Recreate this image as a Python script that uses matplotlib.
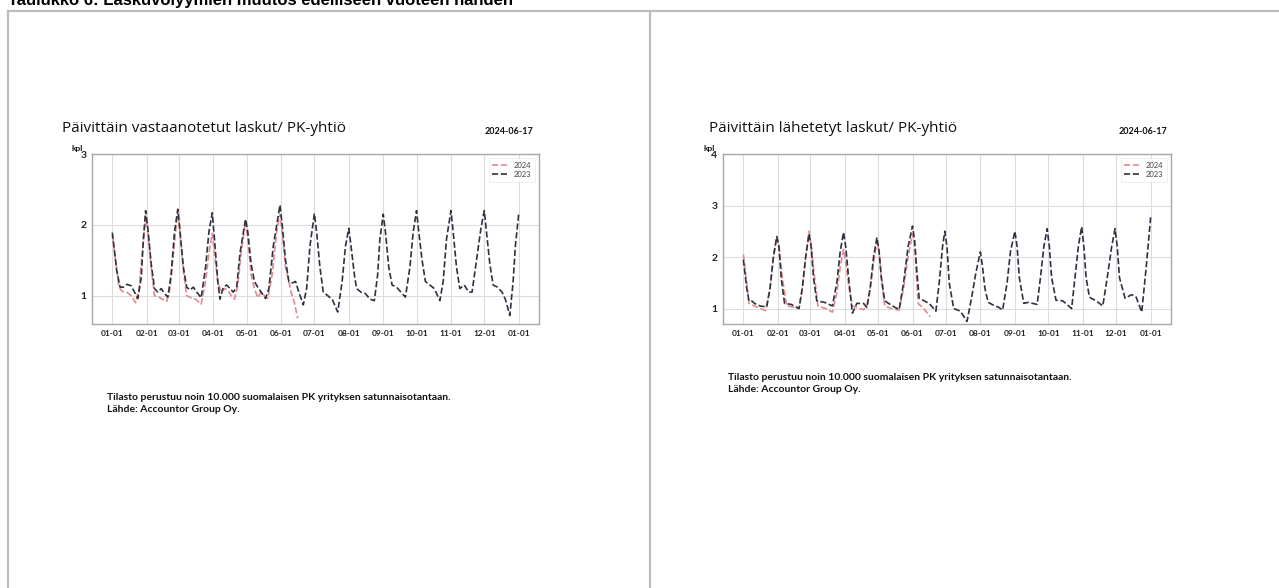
import numpy as np
import pandas as pd
import matplotlib
matplotlib.use('Agg')
import matplotlib.pyplot as plt
from matplotlib.lines import Line2D

# Päivät vuoden alusta ja arvot (kpl / yhtiö)
vast_2023_day = [0, 4, 7, 10, 13, 17, 20, 23, 26, 28, 30, 32, 35, 38, 41, 44, 47, 50, 53, 56,
                 59, 61, 64, 67, 70, 73, 76, 80, 84, 87, 90, 92, 95, 97, 100, 103, 106, 109, 112, 115,
                 120, 122, 125, 128, 131, 134, 138, 141, 145, 151, 153, 156, 159, 162, 165, 168, 172, 175, 178, 182,
                 184, 187, 190, 194, 198, 203, 207, 210, 213, 215, 218, 220, 224, 228, 232, 236, 239, 241, 244, 246,
                 249, 252, 256, 260, 264, 268, 271, 274, 276, 279, 282, 286, 290, 295, 298, 301, 305, 307, 310, 313,
                 317, 321, 324, 328, 332, 335, 337, 340, 343, 347, 351, 354, 358, 361, 363, 366]
vast_2023_val = [1.89, 1.35, 1.12, 1.12, 1.16, 1.14, 1.05, 0.96, 1.25, 1.80, 2.20, 1.95, 1.45, 1.10, 1.05, 1.10, 1.03, 0.98, 1.30, 1.90,
                 2.22, 1.90, 1.40, 1.12, 1.08, 1.12, 1.05, 0.97, 1.40, 1.90, 2.17, 1.80, 1.20, 0.95, 1.12, 1.15, 1.10, 1.05, 1.12, 1.60,
                 2.08, 1.90, 1.45, 1.20, 1.12, 1.05, 0.96, 1.10, 1.70, 2.28, 2.00, 1.50, 1.20, 1.18, 1.20, 1.05, 0.87, 1.10, 1.70, 2.16,
                 1.90, 1.40, 1.05, 1.00, 0.95, 0.77, 1.20, 1.70, 1.95, 1.70, 1.30, 1.10, 1.05, 1.03, 0.95, 0.93, 1.30, 1.80, 2.15, 1.90,
                 1.40, 1.15, 1.12, 1.05, 0.98, 1.40, 1.90, 2.20, 1.90, 1.50, 1.20, 1.15, 1.10, 0.93, 1.20, 1.80, 2.20, 1.90, 1.40, 1.10,
                 1.15, 1.05, 1.05, 1.50, 1.95, 2.20, 1.90, 1.45, 1.15, 1.12, 1.05, 0.95, 0.72, 1.20, 1.70, 2.15]

vast_2024_day = [0, 3, 6, 9, 13, 17, 21, 24, 27, 30, 32, 35, 38, 42, 45, 49, 52, 55, 59, 61,
                 64, 67, 71, 75, 80, 84, 87, 90, 92, 95, 98, 101, 104, 107, 110, 113, 116, 120, 122, 125,
                 128, 131, 134, 137, 140, 144, 148, 151, 153, 156, 159, 161, 164, 167]
vast_2024_val = [1.85, 1.50, 1.12, 1.06, 1.05, 1.00, 0.90, 1.10, 1.60, 2.12, 1.90, 1.40, 1.00, 0.98, 0.95, 0.92, 1.10, 1.60, 2.20, 1.90,
                 1.35, 1.00, 0.97, 0.95, 0.88, 1.20, 1.60, 1.88, 1.60, 1.20, 1.05, 1.10, 1.08, 1.00, 0.95, 1.15, 1.60, 2.05, 1.80, 1.30,
                 1.10, 0.97, 1.05, 1.00, 0.96, 1.30, 1.90, 2.15, 1.90, 1.40, 1.20, 1.05, 0.90, 0.68]

lah_2023_day = [0, 3, 5, 7, 10, 15, 21, 24, 27, 30, 32, 34, 37, 43, 50, 53, 56, 59, 61, 63,
                66, 73, 80, 84, 87, 90, 92, 95, 98, 102, 108, 111, 114, 117, 120, 122, 124, 127, 134, 140,
                144, 148, 152, 154, 156, 158, 167, 173, 176, 179, 181, 183, 185, 189, 195, 201, 205, 209, 213, 215,
                217, 220, 226, 229, 233, 237, 240, 244, 246, 248, 252, 256, 264, 267, 270, 273, 275, 277, 281, 287,
                295, 298, 301, 304, 306, 308, 311, 317, 323, 327, 331, 334, 336, 338, 343, 349, 353, 358, 362, 366]
lah_2023_val = [1.95, 1.40, 1.15, 1.16, 1.10, 1.05, 1.03, 1.40, 2.00, 2.40, 2.20, 1.60, 1.10, 1.08, 1.00, 1.40, 2.00, 2.45, 2.20, 1.60,
                1.15, 1.12, 1.05, 1.50, 2.10, 2.48, 2.20, 1.50, 0.91, 1.10, 1.10, 1.02, 1.40, 2.00, 2.38, 2.10, 1.60, 1.15, 1.05, 0.98,
                1.50, 2.20, 2.60, 2.30, 1.70, 1.20, 1.10, 0.95, 1.50, 2.20, 2.50, 2.20, 1.50, 1.00, 0.95, 0.75, 1.20, 1.70, 2.10, 1.80,
                1.40, 1.12, 1.05, 1.03, 0.97, 1.50, 2.10, 2.50, 2.20, 1.60, 1.10, 1.12, 1.08, 1.60, 2.20, 2.55, 2.20, 1.60, 1.16, 1.15,
                1.00, 1.60, 2.20, 2.59, 2.20, 1.60, 1.22, 1.15, 1.05, 1.60, 2.20, 2.55, 2.20, 1.60, 1.20, 1.27, 1.22, 0.93, 1.80, 2.77]

lah_2024_day = [0, 3, 5, 10, 15, 20, 24, 27, 30, 32, 35, 39, 45, 50, 53, 56, 59, 61, 64, 67,
                74, 80, 84, 87, 90, 92, 95, 98, 104, 108, 111, 114, 117, 120, 122, 124, 127, 133, 140, 144,
                148, 152, 154, 157, 162, 168]
lah_2024_val = [2.05, 1.50, 1.10, 1.05, 1.00, 0.96, 1.40, 2.00, 2.38, 2.20, 1.60, 1.05, 1.03, 1.00, 1.40, 2.00, 2.50, 2.20, 1.60, 1.05,
                1.00, 0.93, 1.30, 1.80, 2.15, 1.90, 1.40, 1.05, 1.00, 0.98, 1.05, 1.40, 1.90, 2.30, 2.10, 1.60, 1.05, 1.00, 0.97, 1.40,
                2.00, 2.45, 2.20, 1.10, 1.00, 0.84]

month_labels = ['01-01', '02-01', '03-01', '04-01', '05-01', '06-01', '07-01',
                '08-01', '09-01', '10-01', '11-01', '12-01', '01-01']
chart_titles = ['Päivittäin vastaanotetut laskut/ PK-yhtiö', 'Päivittäin lähetetyt laskut/ PK-yhtiö']
report_date = '2024-06-17'
y_ticks = [[1, 2, 3], [1, 2, 3, 4]]
y_limits = [(0.6, 3.0), (0.7, 4.0)]
footer_lines = ['Tilasto perustuu noin 10.000 suomalaisen PK yrityksen satunnaisotantaan.',
                'Lähde: Accountor Group Oy.']
page_title = 'Taulukko 6: Laskuvolyymien muutos edelliseen vuoteen nähden'

start = pd.Timestamp('2024-01-01')
month_starts = pd.date_range('2024-01-01', '2025-01-01', freq='MS')


def to_dates(days):
    return start + pd.to_timedelta(np.array(days), unit='D')


W, H = 1279, 588
fig = plt.figure(figsize=(W / 100, H / 100), dpi=100)
fig.patch.set_facecolor('white')


def px(x, y):
    # pikselit -> kuvan koordinaatit
    return x / W, 1 - y / H


chart_font = ['Lato', 'DejaVu Sans']
title_font = ['Open Sans', 'DejaVu Sans']
c_2024 = '#e48a8e'
c_2023 = '#2e3240'

# taulukon reunat
border = '#bdbdbd'
for (x0, y0, x1, y1) in [(8, 11, 1279, 11), (8, 11, 8, 588), (650, 11, 650, 588)]:
    a, b = px(x0, y0)
    c, d = px(x1, y1)
    fig.add_artist(Line2D([a, c], [b, d], color=border, lw=1.6, transform=fig.transFigure))

fig.text(*px(8, 5), page_title, fontsize=12, fontweight='bold', family='Liberation Sans',
         va='baseline', ha='left', color='black')

panels = [
    dict(ax=(92, 154, 539, 324), title=(62, 128), date=(533, 131), foot=(107, 398),
         s23=(vast_2023_day, vast_2023_val), s24=(vast_2024_day, vast_2024_val)),
    dict(ax=(723, 154, 1171, 324), title=(709, 128), date=(1167, 131), foot=(728, 377),
         s23=(lah_2023_day, lah_2023_val), s24=(lah_2024_day, lah_2024_val)),
]

for i, p in enumerate(panels):
    x0, y0, x1, y1 = p['ax']
    ax = fig.add_axes([x0 / W, 1 - y1 / H, (x1 - x0) / W, (y1 - y0) / H])
    ax.plot(to_dates(p['s24'][0]), p['s24'][1], ls='--', color=c_2024, lw=1.2, label='2024')
    ax.plot(to_dates(p['s23'][0]), p['s23'][1], ls='--', color=c_2023, lw=1.2, label='2023')
    ax.set_ylim(*y_limits[i])
    ax.set_yticks(y_ticks[i], labels=[str(v) for v in y_ticks[i]],
                  fontsize=7.5, fontweight='bold', family=chart_font)
    ax.set_xticks(month_starts, labels=month_labels, fontsize=6, fontweight='bold', family=chart_font)
    ax.grid(True, color='#dcdcdc', lw=0.8)
    ax.set_axisbelow(True)
    for s in ax.spines.values():
        s.set_color('#a8a8a8')
        s.set_linewidth(1.0)
    ax.tick_params(length=0, pad=4, colors='#222222')
    leg = ax.legend(loc='upper right', frameon=True, handlelength=2.2, handletextpad=0.6,
                    borderpad=0.5, labelspacing=0.3, prop={'family': chart_font, 'size': 5.5})
    leg.get_frame().set_edgecolor('#e6e6e6')
    leg.get_frame().set_linewidth(0.6)
    for t in leg.get_texts():
        t.set_color('#444444')

    fig.text(*px(*p['title']), chart_titles[i], fontsize=11, family=title_font,
             ha='left', va='center', color='#111111')
    fig.text(*px(*p['date']), report_date, fontsize=6.5, family=chart_font, fontweight='bold',
             ha='right', va='center', color='#111111')
    fig.text(*px(x0 - 20, y0 - 5), 'kpl', fontsize=6, family=chart_font, fontweight='bold',
             ha='left', va='center', color='#111111')
    fx, fy = p['foot']
    for k, line in enumerate(footer_lines):
        fig.text(*px(fx, fy + k * 12), line, fontsize=7.5, family=chart_font, fontweight='bold',
                 ha='left', va='center', color='#111111')

fig.savefig('out.png', dpi=100, facecolor='white')
